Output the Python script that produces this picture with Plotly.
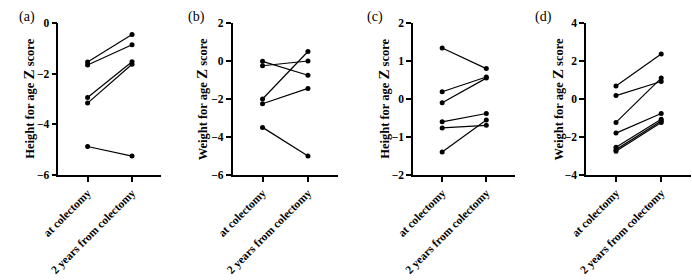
import plotly.graph_objects as go

W, H = 692, 280
categories = ["at colectomy", "2 years from colectomy"]

# Panel (a) Height for age Z score
a_before = [-1.54, -1.66, -2.94, -3.16, -4.87]
a_after = [-0.46, -0.86, -1.53, -1.63, -5.25]
# Panel (b) Weight for age Z score
b_before = [-0.02, -0.25, -2.00, -2.25, -3.49]
b_after = [-0.75, 0.00, 0.50, -1.44, -5.00]
# Panel (c) Height for age Z score
c_before = [1.34, 0.19, -0.10, -0.60, -0.76, -1.39]
c_after = [0.80, 0.58, 0.55, -0.38, -0.69, -0.55]
# Panel (d) Weight for age Z score
d_before = [0.68, 0.18, -1.23, -1.79, -2.54, -2.66, -2.74]
d_after = [2.37, 0.92, 1.10, -0.76, -1.06, -1.16, -1.23]

panels = [
    dict(label="(a)", before=a_before, after=a_after, title="Height for age", yr=[-6, 0], dt=2,
         x0=42.3, x1=148, tx=12, lx=10),
    dict(label="(b)", before=b_before, after=b_after, title="Weight for age", yr=[-6, 2], dt=2,
         x0=221, x1=329, tx=190, lx=184),
    dict(label="(c)", before=c_before, after=c_after, title="Height for age", yr=[-2, 2], dt=1,
         x0=406, x1=511, tx=376, lx=367),
    dict(label="(d)", before=d_before, after=d_after, title="Weight for age", yr=[-4, 4], dt=2,
         x0=583.5, x1=691, tx=555, lx=540),
]

FONT = "Liberation Serif, Times New Roman, serif"
ytop, ybot = 17.7, 176.7
ydom = [1 - ybot / H, 1 - ytop / H]

fig = go.Figure()
annotations = []
for i, p in enumerate(panels):
    n = "" if i == 0 else str(i + 1)
    xa, ya = "x" + n, "y" + n
    for b, a in zip(p["before"], p["after"]):
        fig.add_trace(go.Scatter(
            x=categories, y=[b, a], xaxis=xa, yaxis=ya, mode="lines+markers",
            line=dict(color="black", width=1.2), marker=dict(color="black", size=5),
            showlegend=False, hoverinfo="skip"))
    axis_common = dict(showline=True, linecolor="black", linewidth=1.5, ticks="outside",
                       ticklen=5, tickwidth=1.5, tickcolor="black", showgrid=False,
                       zeroline=False, fixedrange=True)
    fig.layout["xaxis" + n] = dict(
        axis_common, domain=[p["x0"] / W, p["x1"] / W], anchor=ya, type="category",
        range=[-0.66, 1.66], tickangle=-45,
        tickfont=dict(family=FONT, size=11.5, color="black", weight="bold"))
    fig.layout["yaxis" + n] = dict(
        axis_common, domain=ydom, anchor=xa, range=p["yr"], dtick=p["dt"], tick0=0,
        tickfont=dict(family=FONT, size=11.5, color="black", weight="bold"))
    annotations.append(dict(
        text=p["title"] + " <span style='font-size:15px'>Z</span> score",
        xref="paper", yref="paper", x=p["tx"] / W, y=1 - 97.2 / H, textangle=-90,
        showarrow=False, xanchor="center", yanchor="middle",
        font=dict(family=FONT, size=12.5, color="black", weight="bold")))
    annotations.append(dict(
        text=p["label"], xref="paper", yref="paper", x=p["lx"] / W, y=1 - 12 / H,
        showarrow=False, xanchor="center", yanchor="middle",
        font=dict(family=FONT, size=14, color="black")))

fig.update_layout(width=W, height=H, margin=dict(l=0, r=0, t=0, b=0),
                  plot_bgcolor="white", paper_bgcolor="white", annotations=annotations)
fig.write_html("out.html", config={"displayModeBar": False})
